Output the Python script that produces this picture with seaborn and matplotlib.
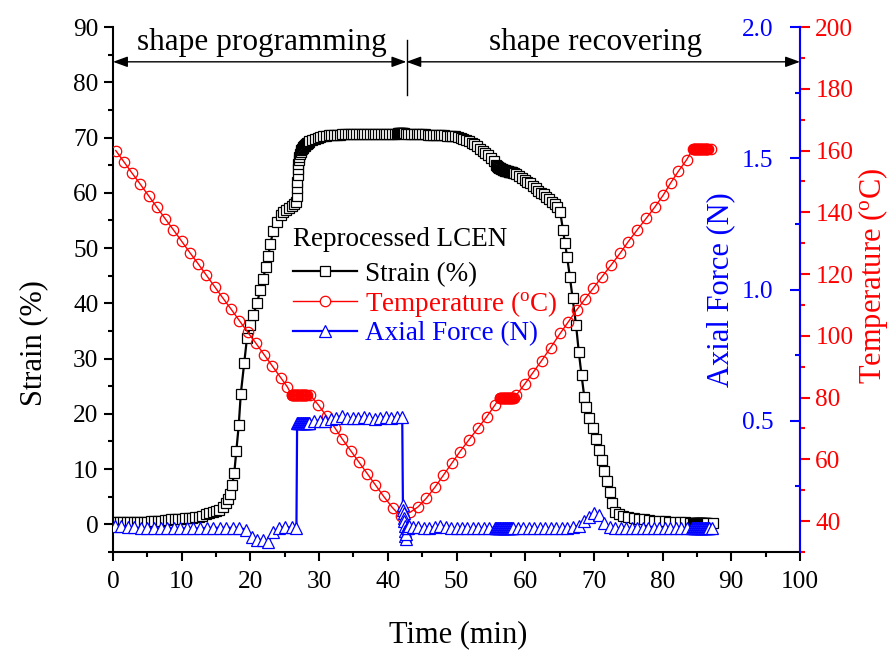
import matplotlib
matplotlib.use("Agg")
import matplotlib.pyplot as plt
import seaborn as sns
from matplotlib.lines import Line2D
from matplotlib.ticker import MultipleLocator, FixedLocator, FormatStrFormatter

# ---------------- data ----------------
strain_time = [
    0.0, 0.5, 1.0, 1.5, 2.0, 2.5, 3.0, 3.5, 4.0, 4.5, 5.0, 5.5, 6.0, 6.5, 7.0, 7.5,
    8.0, 8.5, 9.0, 9.5, 10.0, 10.5, 11.0, 11.5, 12.0, 12.5, 13.0, 13.5, 14.0, 14.5, 15.0, 15.5,
    16.0, 16.4, 16.7, 17.0, 17.35, 17.65, 17.95, 18.3, 18.6, 19.1, 19.5, 20.0, 20.4, 21.0,
    21.4, 21.8, 22.3, 22.6, 22.9, 23.3, 23.8, 24.4, 24.8, 25.2, 25.6, 26.0, 26.4, 26.7,
    26.75, 26.8, 26.85, 26.9, 26.95, 27.0, 27.05, 27.1, 27.2, 27.3, 27.4, 27.5, 27.6, 27.7,
    27.8, 27.9, 28.0, 28.1, 28.2, 28.3, 28.4, 28.5, 28.6,
    29.0, 29.4, 29.8, 30.2, 30.6, 31.0, 31.4, 31.8, 32.2, 32.6, 33.0, 33.4, 33.8, 34.2, 34.6, 35.0,
    35.4, 35.8, 36.2, 36.6, 37.0, 37.4, 37.8, 38.2, 38.6, 39.0, 39.4, 39.8, 40.2, 40.6, 41.0, 41.4,
    41.5, 41.6, 41.7, 41.8, 41.9, 42.0, 42.1, 42.2, 42.3,
    42.6, 43.0, 43.4, 43.8, 44.2, 44.6, 45.0, 45.4, 45.8, 46.2, 46.6, 47.0, 47.4, 47.8, 48.2, 48.6,
    49.0, 49.4, 49.8, 50.2, 50.6, 51.0, 51.4, 51.8, 52.2, 52.6, 53.0, 53.4, 53.8, 54.2, 54.6, 55.0, 55.4,
    55.8, 55.9, 56.0, 56.1, 56.2, 56.3, 56.4, 56.5, 56.6, 56.7, 56.8, 56.9, 57.0, 57.1, 57.2, 57.3,
    57.4, 57.5, 57.6, 57.7, 57.8, 57.9, 58.0, 58.1, 58.2, 58.3,
    58.7, 59.1, 59.5, 59.9, 60.3, 60.7, 61.1, 61.5, 61.9, 62.3, 62.7, 63.1, 63.5, 63.9, 64.3, 64.7,
    65.1, 65.5, 65.8, 66.1, 66.5, 66.9, 67.4, 67.8, 68.2, 68.6, 68.9, 69.3, 69.8, 70.3, 70.7, 71.2,
    71.5, 71.9, 72.3, 72.7, 73.1, 73.6, 74.3, 75.0, 75.8, 76.5, 77.3, 78.0, 78.8, 79.5, 80.3, 81.0,
    81.8, 82.5, 83.3, 84.0,
    84.4, 84.5, 84.6, 84.7, 84.8, 84.9, 85.0, 85.1, 85.2, 85.3, 85.4, 85.5, 85.6, 85.7, 85.8, 85.9,
    86.0, 86.1, 86.2, 86.3, 86.4, 87.3,
]
strain_pct = [
    0.4, 0.5, 0.5, 0.5, 0.5, 0.5, 0.5, 0.4, 0.4, 0.5, 0.5, 0.6, 0.6, 0.7, 0.7, 0.8,
    0.8, 0.9, 0.9, 1.0, 1.0, 1.1, 1.2, 1.2, 1.3, 1.4, 1.6, 1.8, 2.0, 2.2, 2.4, 2.6,
    3.1, 3.8, 4.6, 5.5, 7.2, 9.3, 13.3, 17.9, 23.6, 29.2, 33.7, 36.0, 37.9, 40.1,
    42.4, 44.4, 46.6, 48.6, 50.7, 53.0, 54.7, 56.0, 56.5, 56.9, 57.3, 57.6, 58.0, 58.4,
    59.5, 60.8, 62.0, 63.2, 64.3, 65.2, 65.9, 66.5, 67.0, 67.4, 67.7, 67.9, 68.1, 68.3,
    68.4, 68.5, 68.7, 68.8, 68.9, 69.0, 69.1, 69.2, 69.3,
    69.6, 69.8, 70.0, 70.1, 70.2, 70.3, 70.4, 70.4, 70.5, 70.5, 70.5, 70.6, 70.6, 70.6, 70.6, 70.6,
    70.7, 70.7, 70.7, 70.7, 70.7, 70.7, 70.7, 70.7, 70.7, 70.7, 70.7, 70.7, 70.7, 70.7, 70.7, 70.7,
    70.8, 70.8, 70.8, 70.8, 70.8, 70.8, 70.8, 70.8, 70.8,
    70.7, 70.7, 70.7, 70.6, 70.6, 70.6, 70.6, 70.6, 70.5, 70.5, 70.5, 70.5, 70.4, 70.4, 70.4, 70.3,
    70.3, 70.3, 70.2, 70.1, 69.9, 69.7, 69.5, 69.3, 69.1, 68.8, 68.4, 68.0, 67.6, 67.2, 66.8, 66.3, 65.7,
    65.1, 64.9, 64.7, 64.6, 64.5, 64.4, 64.4, 64.3, 64.3, 64.2, 64.2, 64.1, 64.1, 64.0, 64.0, 63.9,
    63.9, 63.9, 63.8, 63.8, 63.8, 63.7, 63.7, 63.7, 63.6, 63.6,
    63.4, 63.1, 62.7, 62.3, 62.0, 61.7, 61.2, 60.8, 60.4, 60.0, 59.7, 59.3, 58.9, 58.4, 57.9, 57.4,
    56.5, 53.3, 50.9, 48.4, 44.8, 40.9, 36.1, 31.2, 27.0, 23.1, 21.3, 19.2, 17.4, 15.4, 13.5, 11.7,
    9.7, 7.9, 5.9, 3.8, 2.3, 1.8, 1.5, 1.3, 1.1, 1.0, 0.9, 0.8, 0.7, 0.6, 0.6, 0.5,
    0.5, 0.4, 0.4, 0.3,
    0.3, 0.3, 0.3, 0.3, 0.3, 0.3, 0.3, 0.3, 0.3, 0.3, 0.3, 0.3, 0.3, 0.3, 0.3, 0.3,
    0.3, 0.3, 0.3, 0.3, 0.3, 0.3,
]

temp_time = [
    0.4, 1.6, 2.8, 4.0, 5.2, 6.4, 7.6, 8.8, 10.0, 11.2, 12.4, 13.6, 14.8, 16.0, 17.2, 18.4,
    19.6, 20.8, 22.0, 23.2, 24.4, 25.4,
    26.0, 26.1, 26.2, 26.3, 26.4, 26.5, 26.6, 26.7, 26.8, 26.9, 27.0, 27.1, 27.2, 27.3, 27.4, 27.5,
    27.6, 27.7, 27.8, 27.9, 28.0, 28.1, 28.2, 28.7,
    29.9, 31.1, 32.3, 33.4, 34.6, 35.8, 37.0, 38.2, 39.4, 40.7, 41.9,
    43.2, 44.4, 45.6, 46.9, 48.1, 49.3, 50.5, 51.8, 53.1, 54.4, 55.6,
    56.3, 56.4, 56.5, 56.6, 56.7, 56.8, 56.9, 57.0, 57.1, 57.2, 57.3, 57.4, 57.5, 57.6, 57.7, 57.8,
    57.9, 58.0, 58.1, 58.2, 58.3, 58.7,
    59.9, 61.1, 62.4, 63.7, 65.1, 66.3, 67.5, 68.7, 69.9, 71.2, 72.5, 73.8, 75.0, 76.3, 77.6, 78.9,
    80.1, 81.2, 82.3, 83.5,
    84.4, 84.5, 84.6, 84.7, 84.8, 84.9, 85.0, 85.1, 85.2, 85.3, 85.4, 85.5, 85.6, 85.7, 85.8, 85.9,
    86.0, 86.1, 86.2, 86.3, 86.4, 86.5, 86.6, 87.1,
]
temp_c = [
    160.0, 156.3, 152.6, 149.0, 145.3, 141.6, 137.9, 134.3, 130.6, 126.9, 123.3, 119.6, 115.9, 112.2, 108.6, 104.9,
    101.2, 97.6, 93.9, 90.2, 86.5, 83.4,
    80.8, 80.8, 80.8, 80.8, 80.8, 80.8, 80.8, 80.8, 80.8, 80.8, 80.8, 80.8, 80.8, 80.8, 80.8, 80.8,
    80.8, 80.8, 80.8, 80.8, 80.8, 80.8, 80.8, 80.8,
    77.6, 73.9, 70.2, 66.5, 62.8, 59.1, 55.4, 51.7, 48.0, 44.3, 41.5,
    42.8, 44.6, 47.4, 51.1, 54.9, 58.7, 62.5, 66.3, 70.0, 73.8, 77.6,
    80.0, 80.0, 80.0, 80.0, 80.0, 80.0, 80.0, 80.0, 80.0, 80.0, 80.0, 80.0, 80.0, 80.0, 80.0, 80.0,
    80.0, 80.0, 80.0, 80.0, 80.0, 80.8,
    84.3, 88.0, 92.0, 96.2, 100.8, 104.6, 108.4, 111.9, 115.4, 119.2, 122.9, 126.7, 130.5, 134.3, 138.0, 141.8,
    145.6, 149.6, 153.3, 157.0,
    160.5, 160.5, 160.5, 160.5, 160.5, 160.5, 160.5, 160.5, 160.5, 160.5, 160.5, 160.5, 160.5, 160.5, 160.5, 160.5,
    160.5, 160.5, 160.5, 160.5, 160.5, 160.5, 160.5, 160.5,
]

force_time = [
    0.3, 1.2, 2.2, 3.1, 4.1, 5.0, 6.0, 7.0, 7.9, 8.9, 9.8, 10.8, 11.7, 12.7, 13.7, 14.6,
    15.6, 16.5, 17.5, 18.4, 19.3, 20.2, 20.9, 21.9, 22.6, 23.3, 24.1, 25.0, 26.0, 26.7,
    26.8, 26.9, 27.0, 27.1, 27.2, 27.3, 27.4, 27.5, 27.6, 27.7, 27.8, 27.9, 28.0, 28.1, 28.2, 28.3,
    28.4, 28.5, 28.6,
    29.3, 30.1, 30.9, 31.7, 32.5, 33.3, 34.1, 34.9, 35.7, 36.5, 37.3, 38.1, 38.9, 39.7, 40.5, 41.3, 42.1,
    42.2, 42.25, 42.3, 42.35, 42.4, 42.45, 42.5, 42.55, 42.6, 42.7, 42.8, 42.9, 43.0, 43.1,
    43.6, 44.4, 45.2, 46.0, 46.8, 47.6, 48.4, 49.2, 50.0, 50.8, 51.6, 52.4, 53.2, 54.0, 54.8,
    55.6, 55.7, 55.8, 55.9, 56.0, 56.1, 56.2, 56.3, 56.4, 56.5, 56.6, 56.7, 56.8, 56.9, 57.0, 57.1,
    57.2, 57.3, 57.4, 57.5, 57.6, 57.7, 57.8, 57.9, 58.0, 58.1, 58.2,
    58.9, 59.7, 60.5, 61.3, 62.1, 62.9, 63.7, 64.5, 65.3, 66.1, 67.0, 67.8, 68.5, 69.3, 70.0, 70.8,
    71.5, 72.3, 73.1, 73.9, 74.7, 75.5, 76.3, 77.1, 77.9, 78.7, 79.5, 80.3, 81.1, 81.9, 82.7, 83.5,
    84.3, 84.4, 84.5, 84.6, 84.7, 84.8, 84.9, 85.0, 85.1, 85.2, 85.3, 85.4, 85.5, 85.6, 85.7, 85.8,
    85.9, 86.0, 86.1, 86.2, 86.3, 86.4, 86.5, 86.6, 86.7, 86.8, 87.2,
]
force_n = [
    0.100, 0.100, 0.095, 0.095, 0.090, 0.090, 0.090, 0.090, 0.090, 0.090, 0.090, 0.090, 0.090, 0.090, 0.092, 0.092,
    0.092, 0.092, 0.092, 0.092, 0.085, 0.058, 0.046, 0.046, 0.040, 0.077, 0.090, 0.094, 0.094, 0.090,
    0.490, 0.490, 0.490, 0.490, 0.490, 0.490, 0.490, 0.490, 0.490, 0.490, 0.490, 0.490, 0.490, 0.490, 0.490, 0.490,
    0.490, 0.490, 0.490,
    0.500, 0.500, 0.500, 0.505, 0.510, 0.520, 0.510, 0.510, 0.510, 0.515, 0.510, 0.505, 0.510, 0.515, 0.510, 0.515, 0.515,
    0.180, 0.160, 0.150, 0.130, 0.120, 0.100, 0.080, 0.060, 0.050, 0.070, 0.090, 0.100, 0.090, 0.100,
    0.095, 0.095, 0.090, 0.090, 0.095, 0.100, 0.095, 0.090, 0.090, 0.090, 0.090, 0.090, 0.090, 0.092, 0.092,
    0.092, 0.092, 0.092, 0.092, 0.092, 0.092, 0.092, 0.092, 0.092, 0.092, 0.092, 0.092, 0.092, 0.092, 0.092, 0.092,
    0.092, 0.092, 0.092, 0.092, 0.092, 0.092, 0.092, 0.092, 0.092, 0.092, 0.092,
    0.090, 0.090, 0.090, 0.092, 0.090, 0.090, 0.090, 0.090, 0.090, 0.092, 0.095, 0.100, 0.120, 0.135, 0.150, 0.140,
    0.110, 0.096, 0.092, 0.090, 0.090, 0.090, 0.090, 0.090, 0.090, 0.090, 0.090, 0.090, 0.090, 0.090, 0.090, 0.090,
    0.090, 0.090, 0.090, 0.090, 0.090, 0.090, 0.090, 0.090, 0.090, 0.090, 0.090, 0.090, 0.090, 0.090, 0.090, 0.090,
    0.090, 0.090, 0.090, 0.090, 0.090, 0.090, 0.090, 0.090, 0.090, 0.090, 0.090,
]

series_labels = ["Strain (%)", r"Temperature ($\mathrm{^{o}}$C)", "Axial Force (N)"]
legend_title = "Reprocessed LCEN"
phase_labels = ["shape programming", "shape recovering"]
force_major = [0.5, 1.0, 1.5, 2.0]
force_minor = [0.25, 0.75, 1.25, 1.75]

# ---------------- style ----------------
plt.rcParams["font.family"] = ["Liberation Serif", "DejaVu Serif"]
plt.rcParams["mathtext.fontset"] = "custom"
plt.rcParams["mathtext.rm"] = "Liberation Serif"
plt.rcParams["mathtext.it"] = "Liberation Serif:italic"

TICK = 18.2
LAB = 22

fig = plt.figure(figsize=(8.91, 6.53), dpi=100)
ax = fig.add_axes([113 / 891, 1 - 552 / 653, 687 / 891, 525 / 653])
ax3 = ax.twinx()   # temperature
ax2 = ax.twinx()   # axial force

sns.lineplot(x=strain_time, y=strain_pct, ax=ax, color="black", linewidth=1.6,
             marker="s", markersize=7, markerfacecolor="white", markeredgecolor="black",
             markeredgewidth=0.9, estimator=None, sort=False, legend=False)
sns.lineplot(x=temp_time, y=temp_c, ax=ax3, color="red", linewidth=1.0,
             marker="o", markersize=7.5, markerfacecolor="none", markeredgecolor="red",
             markeredgewidth=0.9, estimator=None, sort=False, legend=False)
sns.lineplot(x=force_time, y=force_n, ax=ax2, color="blue", linewidth=1.6,
             marker="^", markersize=8.5, markerfacecolor="white", markeredgecolor="blue",
             markeredgewidth=0.9, estimator=None, sort=False, legend=False)

# main axes
ax.set_xlim(0, 100)
ax.set_ylim(-5, 90)
ax.xaxis.set_major_locator(MultipleLocator(10))
ax.xaxis.set_minor_locator(MultipleLocator(5))
ax.yaxis.set_major_locator(MultipleLocator(10))
ax.yaxis.set_minor_locator(MultipleLocator(5))
for s in ["top", "right"]:
    ax.spines[s].set_visible(False)
for s in ["left", "bottom"]:
    ax.spines[s].set_linewidth(1.5)
    ax.spines[s].set_color("black")
ax.tick_params(which="major", direction="out", length=6.5, width=1.5, labelsize=TICK, pad=4, colors="black")
ax.tick_params(which="minor", direction="out", length=3.5, width=1.5, colors="black")
ax.tick_params(axis="x", which="major", pad=7)
ax.set_xlabel("Time (min)", fontsize=LAB)
ax.set_ylabel("Strain (%)", fontsize=LAB)
ax.xaxis.label.set_va("center")
ax.yaxis.label.set_va("center")
ax.xaxis.set_label_coords(0.502, -0.158)
ax.yaxis.set_label_coords(-0.116, 0.398)
ax.grid(False)

# temperature axis
ax3.set_ylim(30, 200)
ax3.yaxis.set_major_locator(MultipleLocator(20))
ax3.yaxis.set_minor_locator(MultipleLocator(10))
for s in ["top", "left", "bottom"]:
    ax3.spines[s].set_visible(False)
ax3.spines["right"].set_color("red")
ax3.spines["right"].set_linewidth(1.5)
ax3.tick_params(axis="y", which="major", direction="out", length=7, width=1.5, labelsize=TICK, pad=4, colors="red")
ax3.tick_params(axis="y", which="minor", direction="out", length=3.5, width=1.5, colors="red")
ax3.set_ylabel(series_labels[1], fontsize=LAB, color="red")
ax3.yaxis.label.set_va("center")
ax3.yaxis.set_label_coords(1.106, 0.526)
ax3.grid(False)

# force axis (drawn at the right edge, labels inside)
ax2.set_ylim(0, 2.0)
ax2.yaxis.set_major_locator(FixedLocator(force_major))
ax2.yaxis.set_minor_locator(FixedLocator(force_minor))
ax2.yaxis.set_major_formatter(FormatStrFormatter("%.1f"))
for s in ["top", "right", "bottom"]:
    ax2.spines[s].set_visible(False)
ax2.spines["left"].set_visible(True)
ax2.spines["left"].set_position(("axes", 1.0))
ax2.spines["left"].set_color("blue")
ax2.spines["left"].set_linewidth(1.5)
ax2.yaxis.set_ticks_position("left")
ax2.yaxis.set_label_position("left")
ax2.tick_params(axis="y", which="major", direction="out", length=7, width=1.5, labelsize=TICK, pad=12, colors="blue")
ax2.tick_params(axis="y", which="minor", direction="out", length=3.5, width=1.5, colors="blue")
ax2.set_ylabel(series_labels[2], fontsize=LAB, color="blue")
ax2.yaxis.label.set_va("center")
ax2.yaxis.set_label_coords(0.884, 0.5)
ax2.grid(False)

# phase annotations
arrow_kw = dict(arrowstyle="<|-|>,head_length=0.55,head_width=0.2", color="black",
                lw=1.0, shrinkA=0, shrinkB=0, mutation_scale=16)
ax.annotate("", xy=(0, 83.7), xytext=(42.7, 83.7), arrowprops=arrow_kw)
ax.annotate("", xy=(42.7, 83.7), xytext=(100, 83.7), arrowprops=arrow_kw)
ax.axvline(42.8, ymin=(77.7 + 5) / 95, ymax=(87.7 + 5) / 95, color="black", lw=1.0)
ax.text(21.7, 85.9, phase_labels[0], ha="center", va="baseline", fontsize=22.5)
ax.text(70.2, 85.9, phase_labels[1], ha="center", va="baseline", fontsize=22.5)

# legend
handles = [
    Line2D([], [], color="black", lw=1.6, marker="s", ms=7, mfc="white", mec="black", mew=0.9),
    Line2D([], [], color="red", lw=1.0, marker="o", ms=7.5, mfc="white", mec="red", mew=0.9),
    Line2D([], [], color="blue", lw=1.6, marker="^", ms=8.5, mfc="white", mec="blue", mew=0.9),
]
leg = fig.legend(handles, series_labels, loc="upper left", bbox_to_anchor=(293 / 891, 1 - 227 / 653),
                 frameon=False, borderpad=0, borderaxespad=0, handlelength=2.35, handletextpad=0.3,
                 labelspacing=0.08, fontsize=19.5, title=legend_title, title_fontsize=19.5,
                 alignment="left", labelcolor=["black", "red", "blue"], numpoints=1)
leg._legend_box.sep = 7

fig.savefig("out.png", dpi=100)
